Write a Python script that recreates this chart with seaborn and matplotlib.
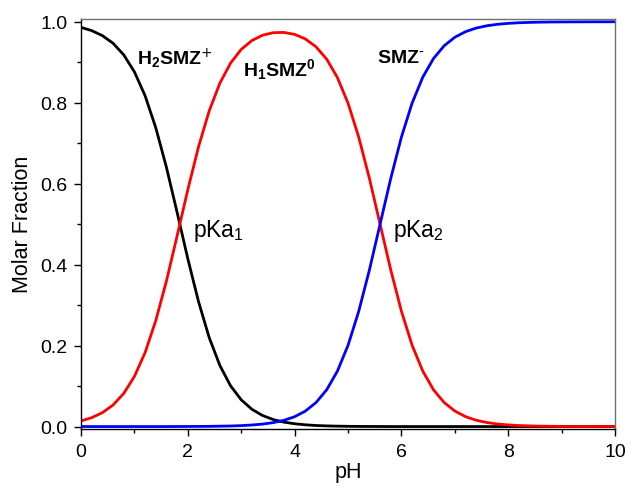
#!/usr/bin/env python3
"""Speciation diagram of sulfamethazine (SMZ) versus pH."""

import matplotlib

matplotlib.use("Agg")

import matplotlib.pyplot as plt
import pandas as pd
import seaborn as sns
from matplotlib.ticker import MultipleLocator

# values, every 0.2 pH units
ph = [round(0.2 * i, 1) for i in range(51)]

h2smz = [
    0.9861, 0.9781, 0.9657, 0.9468, 0.9182, 0.8762, 0.8171, 0.7381, 0.6401, 0.5287,
    0.4144, 0.3087, 0.2198, 0.1509, 0.1007, 0.0660, 0.0426, 0.0272, 0.0173, 0.0109,
    0.0069, 0.0043, 0.0026, 0.0016, 0.0010, 0.0006, 0.0003, 0.0002, 0.0001, 0.0000,
    0.0000, 0.0000, 0.0000, 0.0000, 0.0000, 0.0000, 0.0000, 0.0000, 0.0000, 0.0000,
    0.0000, 0.0000, 0.0000, 0.0000, 0.0000, 0.0000, 0.0000, 0.0000, 0.0000, 0.0000,
    0.0000,
]
h1smz = [
    0.0139, 0.0219, 0.0343, 0.0532, 0.0818, 0.1238, 0.1829, 0.2619, 0.3599, 0.4713,
    0.5854, 0.6910, 0.7797, 0.8483, 0.8978, 0.9317, 0.9536, 0.9667, 0.9730, 0.9736,
    0.9688, 0.9576, 0.9382, 0.9076, 0.8624, 0.7988, 0.7150, 0.6130, 0.5000, 0.3869,
    0.2847, 0.2008, 0.1368, 0.0909, 0.0593, 0.0383, 0.0245, 0.0156, 0.0099, 0.0063,
    0.0040, 0.0025, 0.0016, 0.0010, 0.0006, 0.0004, 0.0003, 0.0002, 0.0001, 0.0001,
    0.0000,
]
smz = [
    0.0000, 0.0000, 0.0000, 0.0000, 0.0000, 0.0000, 0.0000, 0.0000, 0.0000, 0.0001,
    0.0002, 0.0003, 0.0005, 0.0009, 0.0014, 0.0023, 0.0038, 0.0061, 0.0097, 0.0154,
    0.0243, 0.0381, 0.0592, 0.0908, 0.1367, 0.2006, 0.2847, 0.3868, 0.5000, 0.6131,
    0.7153, 0.7992, 0.8632, 0.9091, 0.9407, 0.9617, 0.9755, 0.9844, 0.9901, 0.9937,
    0.9960, 0.9975, 0.9984, 0.9990, 0.9994, 0.9996, 0.9997, 0.9998, 0.9999, 0.9999,
    1.0000,
]

species = ["H2SMZ+", "H1SMZ0", "SMZ-"]
colors = ["black", "red", "blue"]


def main() -> None:
    df = pd.DataFrame(
        {
            "pH": ph * 3,
            "fraction": h2smz + h1smz + smz,
            "species": [s for s in species for _ in ph],
        }
    )

    sns.set_theme(style="ticks")
    plt.rcParams["font.family"] = ["Liberation Sans", "DejaVu Sans"]
    plt.rcParams["mathtext.default"] = "regular"
    for key in ("text.color", "axes.labelcolor", "xtick.color", "ytick.color"):
        plt.rcParams[key] = "black"

    fig = plt.figure(figsize=(6.32, 4.89), dpi=100)
    ax = fig.add_axes([0.1282, 0.1207, 0.845, 0.8394])

    sns.lineplot(
        data=df,
        x="pH",
        y="fraction",
        hue="species",
        hue_order=species,
        palette=colors,
        linewidth=2.0,
        legend=False,
        ax=ax,
    )

    ax.set_xlim(0, 10)
    ax.set_ylim(-0.006, 1.008)
    ax.xaxis.set_major_locator(MultipleLocator(2))
    ax.xaxis.set_minor_locator(MultipleLocator(1))
    ax.yaxis.set_major_locator(MultipleLocator(0.2))
    ax.yaxis.set_minor_locator(MultipleLocator(0.1))
    ax.tick_params(which="major", direction="out", length=5, width=1,
                   labelsize=14, pad=5)
    ax.tick_params(which="minor", direction="out", length=3, width=1)
    for side, spine in ax.spines.items():
        spine.set_visible(True)
        spine.set_linewidth(1)
        spine.set_color("black" if side in ("left", "bottom") else "#707070")

    ax.set_xlabel("pH", fontsize=15.5, labelpad=1)
    ax.set_ylabel("Molar Fraction", fontsize=15.5, labelpad=5)

    ax.text(1.05, 0.898, r"$H_2SMZ^{\text{+}}$", fontsize=14, fontweight="bold")
    ax.text(3.03, 0.867, r"$H_1SMZ^0$", fontsize=14, fontweight="bold")
    ax.text(5.54, 0.900, r"$SMZ^{\text{-}}$", fontsize=14, fontweight="bold")
    ax.text(2.10, 0.471, r"pKa$_1$", fontsize=16.5)
    ax.text(5.84, 0.471, r"pKa$_2$", fontsize=16.5)

    fig.savefig("out.png", dpi=100)


if __name__ == "__main__":
    main()
